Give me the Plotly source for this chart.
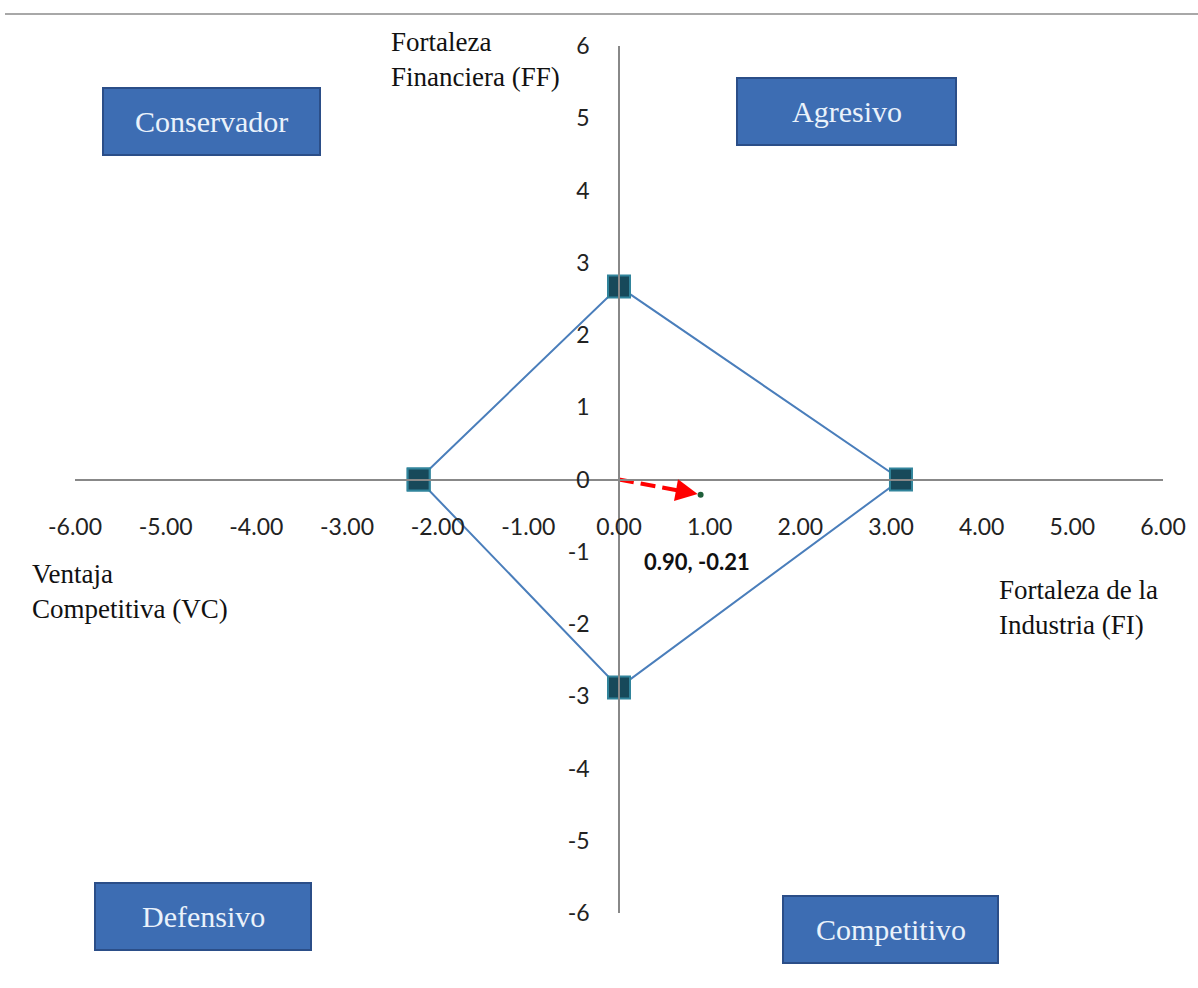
import plotly.graph_objects as go

# ---- data ----
factor_names = ["VC", "FF", "FI", "EE"]
factor_values = [-2.21, 2.67, 3.11, -2.88]   # VC, FF, FI, EE
vc, ff, fi, ee = factor_values
vector_x = round(fi + vc, 2)   # 0.90
vector_y = round(ff + ee, 2)   # -0.21
x_ticks = [-6, -5, -4, -3, -2, -1, 0, 1, 2, 3, 4, 5, 6]
x_tick_labels = ["-6.00", "-5.00", "-4.00", "-3.00", "-2.00", "-1.00", "0.00",
                 "1.00", "2.00", "3.00", "4.00", "5.00", "6.00"]
y_ticks = [-6, -5, -4, -3, -2, -1, 0, 1, 2, 3, 4, 5, 6]
y_tick_labels = ["-6", "-5", "-4", "-3", "-2", "-1", "0", "1", "2", "3", "4", "5", "6"]
quadrants = ["Conservador", "Agresivo", "Defensivo", "Competitivo"]
axis_titles = ["Fortaleza<br>Financiera (FF)", "Ventaja<br>Competitiva (VC)",
               "Fortaleza de la<br>Industria (FI)"]

W, H = 1198, 988
L, R, T, B = 75, 1163, 46, 913


def px(x):
    return (x - L) / (R - L)


def py(y):
    return (B - y) / (B - T)


fig = go.Figure()

# diamond
fig.add_trace(go.Scatter(
    x=[vc, 0, fi, 0, vc], y=[0, ff, 0, ee, 0],
    mode="lines+markers",
    line=dict(color="#4A7EBB", width=2),
    marker=dict(symbol="square", size=22, color="#17495A",
                line=dict(color="#31849B", width=2)),
    hoverinfo="skip", showlegend=False, cliponaxis=False,
))

# vector (dashed red line)
fig.add_trace(go.Scatter(
    x=[0, vector_x * 0.8], y=[0, vector_y * 0.8],
    mode="lines",
    line=dict(color="#FF0000", width=4, dash="15px,7px"),
    hoverinfo="skip", showlegend=False,
))
# arrowhead (pixel offsets along vector direction)
sx = (R - L) / 12.0
sy = (B - T) / 12.0
dxp, dyp = vector_x * sx, -vector_y * sy
norm = (dxp ** 2 + dyp ** 2) ** 0.5
tail = 18
fig.add_annotation(x=vector_x, y=vector_y, xref="x", yref="y",
                   ax=-dxp / norm * tail, ay=-dyp / norm * tail,
                   text="", showarrow=True, arrowhead=2, arrowsize=1.1,
                   arrowwidth=4, arrowcolor="#FF0000", standoff=3)
fig.add_trace(go.Scatter(
    x=[vector_x], y=[vector_y], mode="markers",
    marker=dict(symbol="circle", size=6, color="#1F5F3A"),
    hoverinfo="skip", showlegend=False,
))

tick_font = dict(family="Lato, Open Sans, sans-serif", size=23, color="#222222")

fig.update_layout(
    width=W, height=H,
    margin=dict(l=L, r=W - R, t=T, b=H - B),
    paper_bgcolor="white", plot_bgcolor="white",
    xaxis=dict(range=[-6, 6], tickvals=x_ticks, ticktext=x_tick_labels,
               showgrid=False, zeroline=False, showline=True,
               linecolor="#888888", linewidth=1.5,
               anchor="free", position=0.5,
               ticks="outside", ticklen=27, tickcolor="rgba(0,0,0,0)",
               tickfont=tick_font),
    yaxis=dict(range=[-6, 6], tickvals=y_ticks, ticktext=y_tick_labels,
               showgrid=False, zeroline=False, showline=True,
               linecolor="#888888", linewidth=1.5,
               anchor="free", position=0.5,
               ticks="outside", ticklen=24, tickcolor="rgba(0,0,0,0)",
               tickfont=tick_font),
)

# vector label
fig.add_annotation(x=0.86, y=-1.14, xref="x", yref="y", showarrow=False,
                   xanchor="center", yanchor="middle",
                   text=f"<b>{vector_x:.2f}, {vector_y:.2f}</b>",
                   font=dict(family="Lato, sans-serif", size=22, color="#111111"))

# quadrant boxes
boxes = [(103, 320, 88, 155), (737, 956, 78, 145), (95, 311, 883, 950), (783, 998, 896, 963)]
for name, (x0, x1, y0, y1) in zip(quadrants, boxes):
    fig.add_shape(type="rect", xref="paper", yref="paper",
                  x0=px(x0), x1=px(x1), y0=py(y1), y1=py(y0),
                  fillcolor="#3D6DB3", line=dict(color="#2B4E88", width=2))
    fig.add_annotation(xref="paper", yref="paper", x=px((x0 + x1) / 2), y=py((y0 + y1) / 2),
                       xanchor="center", yanchor="middle",
                       text=name, showarrow=False,
                       font=dict(family="Liberation Serif, serif", size=30, color="#EAF2FB"))

# axis titles
title_pos = [(389, 25), (30, 557), (997, 573)]
for txt, (x0, y0) in zip(axis_titles, title_pos):
    fig.add_annotation(xref="paper", yref="paper", x=px(x0), y=py(y0),
                       xanchor="left", yanchor="top", align="left",
                       text=txt, showarrow=False,
                       font=dict(family="Liberation Serif, serif", size=27, color="#111111"))

# top rule line
fig.add_shape(type="line", xref="paper", yref="paper",
              x0=px(5), x1=px(1198), y0=py(14), y1=py(14),
              line=dict(color="#A8A8A8", width=2))

fig.write_html("out.html", config={"displayModeBar": False},
               post_script="document.body.style.margin='0';")
